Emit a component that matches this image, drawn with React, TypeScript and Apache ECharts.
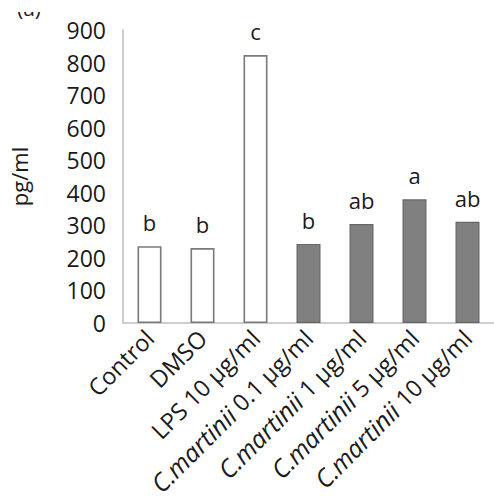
import React, { useEffect, useRef } from "react";
import * as echarts from "echarts";

const categories = [
  "Control",
  "DMSO",
  "LPS 10 μg/ml",
  "C.martinii 0.1 μg/ml",
  "C.martinii 1 μg/ml",
  "C.martinii 5 μg/ml",
  "C.martinii 10 μg/ml",
];
const values = [236, 230, 823, 243, 304, 380, 311];
const sigLetters = ["b", "b", "c", "b", "ab", "a", "ab"];
const isTreatment = [false, false, false, true, true, true, true];
const yTicks = { min: 0, max: 900, interval: 100 };

const FONT = "'Open Sans', 'Noto Sans', sans-serif";
const TXT = "#1a1a1a";

export default function App() {
  const ref = useRef<HTMLDivElement>(null);
  useEffect(() => {
    document.body.style.margin = "0";
    if (!ref.current) return;
    const chart = echarts.init(ref.current, undefined, { renderer: "svg" });
    const data = values.map((v, i) => ({
      value: v,
      itemStyle: isTreatment[i]
        ? { color: "#808080", borderColor: "#666666", borderWidth: 1.2 }
        : { color: "#ffffff", borderColor: "#7a7a7a", borderWidth: 1.6 },
      label: { formatter: sigLetters[i] },
    }));
    chart.setOption({
      animation: false,
      backgroundColor: "#ffffff",
      textStyle: { fontFamily: FONT },
      grid: { left: 117, top: 30, bottom: 179, width: 386, containLabel: false },
      xAxis: {
        type: "category",
        data: categories,
        axisLine: { show: true, lineStyle: { color: "#bdbdbd", width: 1.5 } },
        axisTick: { show: false },
        axisLabel: {
          rotate: 45,
          interval: 0,
          margin: 11,
          color: TXT,
          fontSize: 23.5,
          fontFamily: FONT,
          formatter: (val: string) => {
            if (val.startsWith("C.martinii")) {
              return "{i|C.martinii}{n|" + val.slice("C.martinii".length) + "}";
            }
            return "{n|" + val + "}";
          },
          rich: {
            i: { fontStyle: "italic", fontSize: 25, color: TXT, fontFamily: FONT },
            n: { fontSize: 23.5, color: TXT, fontFamily: FONT },
          },
        },
      },
      yAxis: {
        type: "value",
        min: yTicks.min,
        max: yTicks.max,
        interval: yTicks.interval,
        name: "pg/ml",
        nameLocation: "middle",
        nameGap: 93,
        nameRotate: 90,
        nameTextStyle: { fontSize: 22, color: TXT, fontFamily: FONT },
        axisLine: { show: true, lineStyle: { color: "#bdbdbd", width: 1.5 } },
        axisTick: { show: false },
        splitLine: { show: false },
        axisLabel: { margin: 17, fontSize: 23, color: TXT, fontFamily: FONT },
      },
      series: [
        {
          type: "bar",
          data,
          barWidth: 24,
          label: {
            show: true,
            position: "top",
            distance: 13,
            fontSize: 22,
            color: TXT,
            fontFamily: FONT,
          },
        },
      ],
      graphic: [
        {
          type: "text",
          x: 17,
          y: -3,
          style: { text: "(a)", fontSize: 21, fill: TXT, fontFamily: FONT },
          z: 1,
        },
        {
          type: "rect",
          shape: { x: 0, y: 0, width: 80, height: 12 },
          style: { fill: "#ffffff" },
          z: 2,
        },
      ],
    });
    return () => chart.dispose();
  }, []);
  return <div ref={ref} style={{ width: 494, height: 502 }} />;
}
